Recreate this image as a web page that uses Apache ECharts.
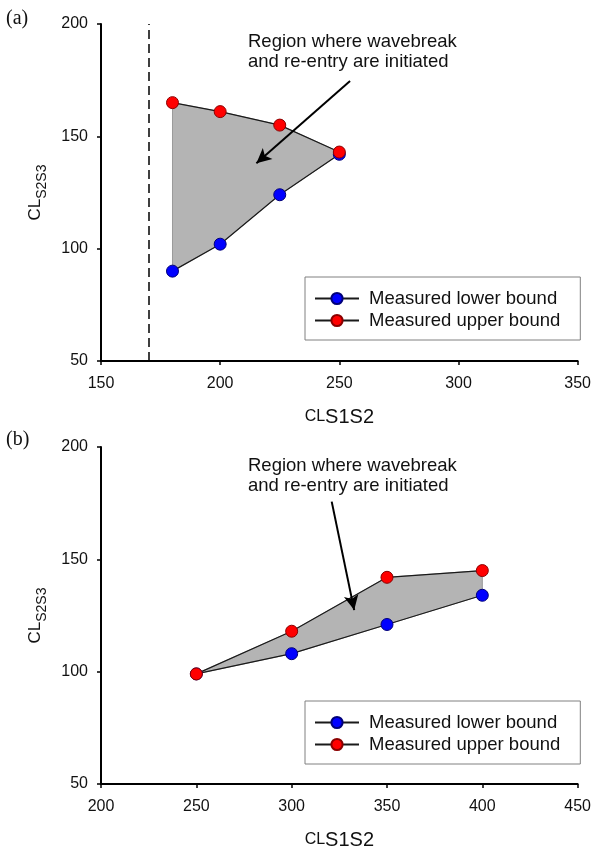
<!DOCTYPE html>
<html>
<head>
<meta charset="utf-8">
<script src="https://cdn.jsdelivr.net/npm/echarts@6/dist/echarts.min.js"></script>
<style>
html,body{margin:0;padding:0;background:#fff;}
#chart{width:594px;height:852px;}
</style>
</head>
<body>
<div id="chart"></div>
<script>
// Panel (a)
var xA = [180, 200, 225, 250];
var lowerA = [90, 102, 124, 142];
var upperA = [165, 161, 155, 143];
var thresholdA = 170;
var arrowA = [[254.5, 174.6], [215.2, 138]];
// Panel (b)
var xB = [250, 300, 350, 400];
var lowerB = [99, 108, 121, 134];
var upperB = [99, 118, 142, 145];
var arrowB = [[321, 175.7], [332.8, 127.4]];
// Axes
var xTicksA = [150, 200, 250, 300, 350];
var xTicksB = [200, 250, 300, 350, 400, 450];
var yTicks = [50, 100, 150, 200];
var seriesNames = ['Measured lower bound', 'Measured upper bound'];
var annotation = 'Region where wavebreak\nand re-entry are initiated';

var FONT = "'Liberation Sans', Arial, Helvetica, sans-serif";

function zip(xs, ys) { return xs.map(function (x, i) { return [x, ys[i]]; }); }

function polygonSeries(idx, xs, lo, up) {
  var pts = zip(xs, up).concat(zip(xs, lo).reverse());
  return {
    type: 'custom', xAxisIndex: idx, yAxisIndex: idx, silent: true, z: 1,
    data: [[xs[0], lo[0]]],
    renderItem: function (params, api) {
      return {
        type: 'polygon',
        shape: { points: pts.map(function (p) { return api.coord(p); }) },
        style: { fill: '#b4b4b4', stroke: '#9a9a9a', lineWidth: 1 }
      };
    }
  };
}

function lineSeries(idx, name, xs, ys, color, border, extra) {
  var s = {
    type: 'line', name: name, xAxisIndex: idx, yAxisIndex: idx, z: 3,
    data: zip(xs, ys),
    symbol: 'circle', symbolSize: 12,
    itemStyle: { color: color, borderColor: border, borderWidth: 1 },
    lineStyle: { color: '#1a1a1a', width: 1.2 },
    emphasis: { disabled: true },
    animation: false
  };
  for (var k in extra) s[k] = extra[k];
  return s;
}

function arrowMark(a) {
  return {
    silent: true, animation: false,
    symbol: ['none', 'arrow'], symbolSize: [11, 15],
    label: { show: false },
    lineStyle: { color: '#000', width: 2, type: 'solid' },
    data: [[{ coord: a[0] }, { coord: a[1] }]]
  };
}

function xAxis(idx, ticks) {
  return {
    type: 'value', gridIndex: idx, min: ticks[0], max: ticks[ticks.length - 1], interval: ticks[1] - ticks[0],
    splitLine: { show: false },
    axisLine: { lineStyle: { color: '#000', width: 2 } },
    axisTick: { length: 4, lineStyle: { color: '#000', width: 1.5 } },
    axisLabel: { color: '#111', fontSize: 16, fontFamily: FONT, margin: 15 },
    name: '{a|CL}{b|S1S2}', nameLocation: 'middle', nameGap: 48,
    nameTextStyle: {
      color: '#111', fontFamily: FONT,
      rich: {
        a: { fontSize: 16, fontFamily: FONT, color: '#111', lineHeight: 14, verticalAlign: 'top' },
        b: { fontSize: 20, fontFamily: FONT, color: '#111', lineHeight: 18, verticalAlign: 'bottom' }
      }
    }
  };
}

function yAxis(idx, ticks) {
  return {
    type: 'value', gridIndex: idx, min: ticks[0], max: ticks[ticks.length - 1], interval: ticks[1] - ticks[0],
    splitLine: { show: false },
    axisLine: { lineStyle: { color: '#000', width: 2 } },
    axisTick: { length: 4, lineStyle: { color: '#000', width: 1.5 } },
    axisLabel: { color: '#111', fontSize: 16, fontFamily: FONT, margin: 13 },
    name: '{a|CL}{b|S2S3}', nameLocation: 'middle', nameGap: 52, nameRotate: 90,
    nameTextStyle: {
      color: '#111', fontFamily: FONT,
      rich: {
        a: { fontSize: 17, fontFamily: FONT, color: '#111', lineHeight: 16, verticalAlign: 'top' },
        b: { fontSize: 14, fontFamily: FONT, color: '#111', lineHeight: 22, verticalAlign: 'bottom' }
      }
    }
  };
}

function legend(top) {
  return {
    orient: 'vertical', left: 305, top: top,
    data: seriesNames,
    borderColor: '#808080', borderWidth: 1, padding: [12, 20, 10, 9],
    itemWidth: 44, itemHeight: 14, itemGap: 3,
    selectedMode: false,
    textStyle: { fontSize: 18.5, fontFamily: FONT, color: '#111', lineHeight: 19, padding: [0, 0, 0, 5] }
  };
}

var chart = echarts.init(document.getElementById('chart'), null, { renderer: 'canvas' });
chart.setOption({
  animation: false,
  backgroundColor: '#fff',
  title: [
    { text: '(a)', left: 6, top: 9, padding: 0, textStyle: { fontFamily: "'Liberation Serif', 'Times New Roman', serif", fontSize: 20, fontWeight: 'normal', color: '#111' } },
    { text: '(b)', left: 6, top: 430, padding: 0, textStyle: { fontFamily: "'Liberation Serif', 'Times New Roman', serif", fontSize: 20, fontWeight: 'normal', color: '#111' } },
    { text: annotation, left: 248, top: 32, padding: 0, textStyle: { fontFamily: FONT, fontSize: 18.5, fontWeight: 'normal', color: '#111', lineHeight: 20 } },
    { text: annotation, left: 248, top: 456, padding: 0, textStyle: { fontFamily: FONT, fontSize: 18.5, fontWeight: 'normal', color: '#111', lineHeight: 20 } }
  ],
  legend: [legend(277), legend(701)],
  grid: [
    { left: 101, right: 13, top: 24, height: 337 },
    { left: 101, right: 13, top: 447, height: 337 }
  ],
  xAxis: [xAxis(0, xTicksA), xAxis(1, xTicksB)],
  yAxis: [yAxis(0, yTicks), yAxis(1, yTicks)],
  series: [
    polygonSeries(0, xA, lowerA, upperA),
    lineSeries(0, seriesNames[0], xA, lowerA, '#0000ff', '#00007a', {
      markLine: {
        silent: true, animation: false, symbol: ['none', 'none'], label: { show: false },
        lineStyle: { color: '#000', width: 1.5, type: [9, 5] },
        data: [{ xAxis: thresholdA }]
      }
    }),
    lineSeries(0, seriesNames[1], xA, upperA, '#ff0000', '#8b0000', { markLine: arrowMark(arrowA) }),
    polygonSeries(1, xB, lowerB, upperB),
    lineSeries(1, seriesNames[0], xB, lowerB, '#0000ff', '#00007a', {}),
    lineSeries(1, seriesNames[1], xB, upperB, '#ff0000', '#8b0000', { markLine: arrowMark(arrowB) })
  ]
});
</script>
</body>
</html>
